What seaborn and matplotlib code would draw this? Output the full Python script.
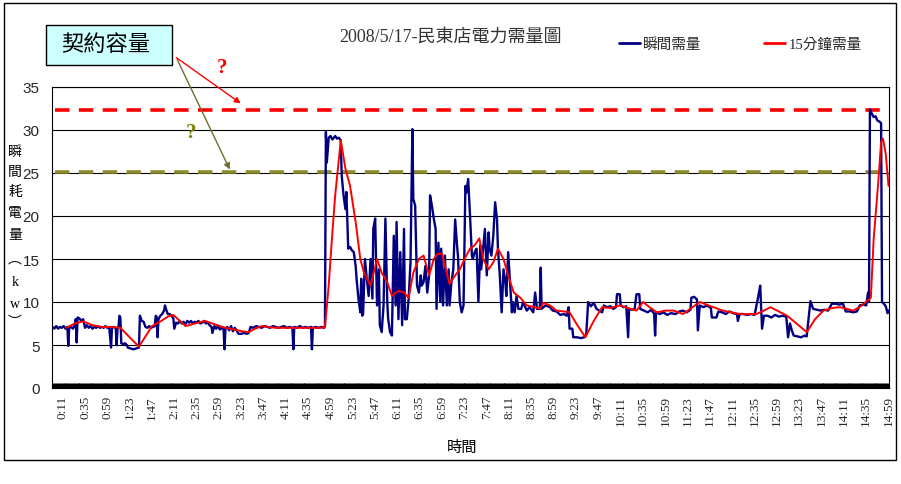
import matplotlib
matplotlib.use("Agg")
import matplotlib.pyplot as plt
import seaborn as sns
import pandas as pd
from matplotlib.patches import Rectangle
from matplotlib.ticker import MultipleLocator

# ---------------- data (minutes after 0:00, kW) ----------------
blue_morning = [(0,7.1),(2,6.9),(4,7.2),(6,6.9),(8,7.1),(10,7.0),(12,7.2),(14,6.9),(16,7.1),(17,4.9),(18,7.0),(20,7.1),(22,6.9),(24,7.3),(25,8.0),(26,5.3),(27,8.2),(29,8.1),(31,7.8),(33,8.0),(35,7.0),(37,7.3),(39,7.0),(41,7.2),(43,6.9),(45,7.1),(47,7.0),(49,7.2),(51,7.0),(53,7.1),(55,7.0),(57,7.2),(59,7.0),(61,7.1),(63,4.7),(64,7.0),(66,7.1),(68,7.0),(69,5.0),(70,7.0),(71,7.1),(72,8.4),(73,8.2),(74,5.2),(76,5.1),(78,5.2),(80,5.0),(81,4.7),(84,4.6),(87,4.5),(90,4.6),(93,4.7),(94,8.4),(96,7.8),(98,7.7),(100,7.1),(102,7.0),(104,7.2),(106,7.0),(108,7.1),(110,7.2),(111,8.4),(112,8.3),(113,5.9),(114,8.0),(116,8.4),(118,8.6),(120,9.0),(121,9.6),(122,9.2),(124,8.6),(126,8.6),(128,8.4),(130,8.1),(131,6.9),(133,7.6),(135,7.5),(137,7.8),(139,7.5),(141,7.7),(143,7.4),(145,7.8),(147,7.6),(149,7.8),(151,7.5),(153,7.7),(155,7.6),(157,7.8),(159,7.5),(161,7.6),(163,7.8),(165,7.5),(167,7.6),(169,7.3),(171,7.1),(172,6.4),(174,7.2),(176,6.9),(178,7.2),(180,6.8),(182,7.0),(184,6.8),(185,4.5),(186,6.9),(188,7.1),(190,6.7),(192,7.2),(194,6.6),(196,7.0),(198,6.7),(200,6.3),(203,6.3),(206,6.4),(209,6.3),(211,6.4),(213,7.1),(216,7.0),(219,7.2),(222,7.1),(225,7.0),(228,7.2),(231,7.1),(234,7.0),(237,7.2),(240,7.1),(243,7.0),(246,7.1),(249,7.2),(252,7.0),(255,7.1),(258,7.0),(259,4.5),(260,7.1),(263,7.0),(266,7.2),(269,7.0),(272,7.1),(275,7.0),(278,7.1),(279,4.5),(280,7.0),(283,7.1),(286,7.0),(289,7.1),(292,7.0),(293,7.1)]

blue_peak = [(294,29.8),(295,26.2),(297,29.1),(299,29.3),(301,28.9),(304,29.3),(306,29.0),(308,29.1),(310,28.8),(311,24.7),(313,22.4),(315,20.8),(316,22.8),(317,19.7),(318,16.2),(320,16.4),(322,16.0),(324,15.8),(326,14.2),(327,12.7),(329,10.4),(331,8.8),(332,12.7),(333,8.4),(334,8.6),(336,15.0),(338,12.7),(340,10.7),(342,15.0),(344,10.4),(345,18.5),(347,19.7),(349,9.6),(351,13.8),(352,7.3),(354,6.5),(356,9.6),(358,19.7),(360,10.0),(361,8.0),(363,6.5),(365,6.1),(367,17.7),(369,9.6),(370,19.3),(372,8.0),(374,15.8),(376,7.3),(378,18.5),(379,8.0),(381,8.0),(383,10.4),(385,14.6),(387,30.1),(388,22.0),(390,21.2),(392,11.9),(394,11.1),(396,13.1),(397,11.9),(399,12.3),(401,14.2),(403,11.1),(405,13.1),(406,22.4),(408,21.2),(410,19.7),(412,18.5),(413,9.2),(415,16.9),(417,10.0),(418,16.2),(420,9.6),(422,15.4),(424,9.6),(426,13.8),(427,9.6),(429,12.3),(431,13.8),(433,19.6),(435,16.6),(436,15.4),(438,10.0),(440,8.8),(442,9.6),(444,23.5),(445,22.7),(447,24.3),(449,20.0),(451,15.4),(452,15.0),(454,15.8),(456,16.2),(458,10.0),(460,16.6),(461,13.8),(463,16.2),(465,18.5),(467,13.1),(469,18.1),(470,16.2),(472,15.4),(474,17.7),(476,21.6),(478,19.6),(479,16.2),(481,13.1),(483,8.8),(485,13.8),(487,12.3),(488,10.7),(490,15.8),(492,12.3),(494,8.8),(495,10.0),(497,8.8),(499,10.7),(501,9.2),(504,9.2),(506,10.0),(510,9.0),(513,9.4),(517,8.8),(519,11.1),(521,9.2),(524,9.2),(525,14.0),(526,9.2),(530,9.6),(535,9.4)]

blue_afternoon = [(538,9.0),(542,8.9),(546,8.5),(550,8.6),(553,8.4),(555,9.4),(556,6.9),(559,6.9),(560,5.9),(564,5.9),(568,5.8),(572,5.9),(574,6.3),(576,10.0),(579,9.5),(582,9.9),(585,9.2),(588,9.0),(591,8.8),(593,9.6),(596,9.4),(600,9.5),(603,9.2),(606,9.4),(607,10.9),(610,10.9),(611,9.6),(614,9.4),(617,9.5),(619,5.9),(620,9.2),(623,9.1),(626,9.2),(628,10.9),(631,10.9),(632,9.2),(636,9.0),(640,8.8),(644,9.1),(647,8.6),(648,6.1),(649,8.8),(653,8.6),(657,8.8),(661,8.5),(665,8.7),(670,8.6),(674,8.9),(678,9.0),(682,8.8),(686,9.1),(687,10.5),(690,10.6),(693,10.3),(694,6.7),(696,9.6),(700,9.4),(704,9.6),(708,9.3),(709,8.2),(714,8.2),(716,8.9),(720,8.8),(724,8.6),(728,8.9),(732,8.7),(736,8.6),(737,7.8),(739,8.6),(743,8.6),(747,8.5),(751,8.6),(755,8.5),(759,10.7),(761,11.9),(763,6.9),(765,8.4),(769,8.4),(773,8.2),(777,8.5),(781,8.3),(785,8.4),(789,8.3),(791,5.9),(793,7.5),(795,6.7),(797,6.1),(801,6.0),(805,5.9),(809,6.1),(811,6.0),(815,10.1),(818,9.2),(822,9.1),(826,9.0),(830,9.1),(834,9.0),(838,9.8),(842,9.8),(846,9.7),(850,9.8),(853,8.9),(857,8.9),(861,8.8),(865,8.9),(868,9.6),(872,9.7),(875,9.6),(877,11.1),(878,10.0),(879,32.4),(881,31.9),(883,31.5),(885,31.6),(887,31.1),(889,31.0),(891,30.8),(892,10.0),(894,9.8),(896,9.5),(898,8.7),(899,9.0)]

red_15min = [(15,7.0),(24,7.5),(33,7.75),(43,7.3),(53,7.1),(63,7.1),(73,7.0),(83,5.9),(93,4.8),(100,6.0),(107,7.2),(117,7.8),(124,8.3),(130,8.5),(136,7.9),(143,7.2),(150,7.4),(157,7.6),(164,7.8),(172,7.5),(180,7.2),(186,7.0),(195,6.8),(204,6.6),(211,6.5),(218,6.9),(225,7.2),(232,7.1),(240,7.0),(250,7.0),(260,7.0),(270,7.0),(280,7.0),(288,7.0),(293,7.05),(297,11.9),(301,18.1),(304,22.4),(310,28.8),(315,25.5),(320,23.5),(326,19.3),(331,15.0),(335,13.4),(342,11.9),(349,15.0),(354,13.4),(360,12.3),(365,10.7),(372,11.3),(378,11.1),(383,10.5),(388,13.4),(394,15.0),(399,15.4),(405,13.1),(410,15.0),(414,15.6),(419,15.6),(422,14.2),(427,12.1),(433,13.1),(438,13.8),(444,15.2),(449,16.2),(454,16.6),(459,17.4),(463,15.0),(469,13.8),(474,14.6),(479,16.2),(485,15.0),(490,13.1),(496,11.1),(503,10.5),(510,9.6),(519,9.4),(524,9.2),(528,9.9),(535,9.6),(542,9.0),(550,8.9),(556,8.8),(565,7.2),(573,5.9),(582,7.8),(591,9.4),(600,9.3),(610,9.6),(619,9.3),(628,9.0),(635,10.0),(642,9.4),(650,8.8),(659,9.0),(668,9.0),(678,8.6),(687,9.3),(696,10.0),(708,9.5),(721,9.0),(730,8.8),(739,8.6),(748,8.6),(757,8.6),(765,9.0),(772,9.4),(781,8.9),(790,8.4),(800,7.5),(811,6.5),(820,8.0),(829,9.0),(838,9.3),(847,9.4),(854,9.2),(861,9.0),(869,9.5),(877,10.2),(880,10.5),(883,17.3),(888,24.0),(891,28.6),(893,29.0),(896,27.2),(899,23.5)]

tick_labels = ['0:11','0:35','0:59','1:23','1:47','2:11','2:35','2:59','3:23','3:47',
               '4:11','4:35','4:59','5:23','5:47','6:11','6:35','6:59','7:23','7:47',
               '8:11','8:35','8:59','9:23','9:47','10:11','10:35','10:59','11:23','11:47',
               '12:11','12:35','12:59','13:23','13:47','14:11','14:35','14:59']
y_ticks = [0, 5, 10, 15, 20, 25, 30, 35]
contract_red = 32.3
contract_olive = 25.1

title = '2008/5/17-民東店電力需量圖'
ylabel_chars = ['瞬', '間', '耗', '電', '量', '︵', 'k', 'w', '︶']

# ---------------- style ----------------
sns.set_theme(style='white')
MIX = ['Liberation Serif', 'Noto Sans CJK TC', 'DejaVu Sans']
plt.rcParams['font.family'] = MIX
plt.rcParams['axes.unicode_minus'] = False

W, H = 901, 485
def fx(px): return px / W
def fy(py): return 1 - py / H

fig = plt.figure(figsize=(W / 100, H / 100), dpi=100)
fig.patch.set_facecolor('white')
ax = fig.add_axes([fx(52), fy(389), (889 - 52) / W, (389 - 88) / H])
ax.set_facecolor('white')

df_blue = pd.DataFrame(blue_morning + blue_peak + blue_afternoon, columns=['t', 'kw'])
df_red = pd.DataFrame(red_15min, columns=['t', 'kw'])

sns.lineplot(data=df_blue, x='t', y='kw', color='#000080', lw=1.7,
             estimator=None, sort=False, ax=ax, label='瞬間需量')
sns.lineplot(data=df_red, x='t', y='kw', color='#FF0000', lw=1.4,
             estimator=None, sort=False, ax=ax, label='15分鐘需量')

ax.axhline(contract_red, xmin=0.003, xmax=0.997, color='#FF0000', lw=2.6,
           ls=(0, (4, 2.6)), zorder=1)
ax.axhline(contract_olive, xmin=0.003, xmax=0.997, color='#8B8B2E', lw=2.6,
           ls=(0, (4, 2.6)), zorder=1)

ax.set_xlim(-0.5, 899.5)
ax.set_ylim(0, 35)
tick_pos = [int(s.split(':')[0]) * 60 + int(s.split(':')[1]) for s in tick_labels]
ax.set_xticks(tick_pos)
ax.set_xticklabels(tick_labels, rotation=90, fontsize=9.5, fontfamily='Liberation Serif')
ax.xaxis.set_minor_locator(MultipleLocator(1))
ax.tick_params(axis='x', which='both', direction='in', length=3.5, width=0.75,
               color='black', pad=5, bottom=True)
ax.set_yticks(y_ticks)
ax.set_yticklabels([str(v) for v in y_ticks], fontsize=11, fontfamily='Liberation Sans')
ax.tick_params(axis='y', length=0, pad=9)
ax.grid(False)
ax.yaxis.grid(True, color='black', lw=0.8)
for s in ax.spines.values():
    s.set_color('black')
    s.set_linewidth(0.8)
ax.set_xlabel('')
ax.set_ylabel('')

leg = ax.legend(loc='center left', bbox_to_anchor=(fx(619), fy(45)),
                bbox_transform=fig.transFigure, ncol=2, frameon=False,
                handlelength=1.45, handletextpad=0.2, columnspacing=4.3,
                borderpad=0, borderaxespad=0,
                prop={'family': MIX, 'size': 10.5})
for line in leg.get_lines():
    line.set_linewidth(2)

# title and axis labels
fig.text(fx(450), fy(37), title, ha='center', va='center', fontsize=13, color='#333333')
fig.text(fx(462), fy(448), '時間', ha='center', va='center', fontsize=11, color='black')
for ch, py in zip(ylabel_chars, [152, 172, 193, 214, 236, 260, 283, 305, 322]):
    fig.text(fx(15), fy(py), ch, ha='center', va='center', fontsize=10, color='black')

# callout box
fig.patches.append(Rectangle((fx(46), fy(66)), (172 - 46) / W, (66 - 26) / H,
                             transform=fig.transFigure, facecolor='#CCFFFF',
                             edgecolor='black', lw=1, zorder=5))
fig.text(fx(106), fy(46), '契約容量', ha='center', va='center', fontsize=16,
         color='black', zorder=6)

ax.annotate('', xy=(fx(243), fy(106)), xytext=(fx(174), fy(57)),
            xycoords='figure fraction', textcoords='figure fraction',
            arrowprops=dict(arrowstyle='-|>', color='#FF0000', lw=1, mutation_scale=9),
            annotation_clip=False)
ax.annotate('', xy=(fx(231), fy(173)), xytext=(fx(176), fy(58)),
            xycoords='figure fraction', textcoords='figure fraction',
            arrowprops=dict(arrowstyle='-|>', color='#6E6E30', lw=1, mutation_scale=9),
            annotation_clip=False)
fig.text(fx(222), fy(68), '?', ha='center', va='center', fontsize=15,
         fontweight='bold', color='#FF0000', fontfamily='Liberation Serif')
fig.text(fx(191), fy(133), '?', ha='center', va='center', fontsize=15,
         fontweight='bold', color='#808000', fontfamily='Liberation Serif')

# outer frame
fig.patches.append(Rectangle((fx(4), fy(461)), (896 - 4) / W, (461 - 4) / H,
                             transform=fig.transFigure, fill=False,
                             edgecolor='black', lw=1))

fig.savefig('out.png', dpi=100)
